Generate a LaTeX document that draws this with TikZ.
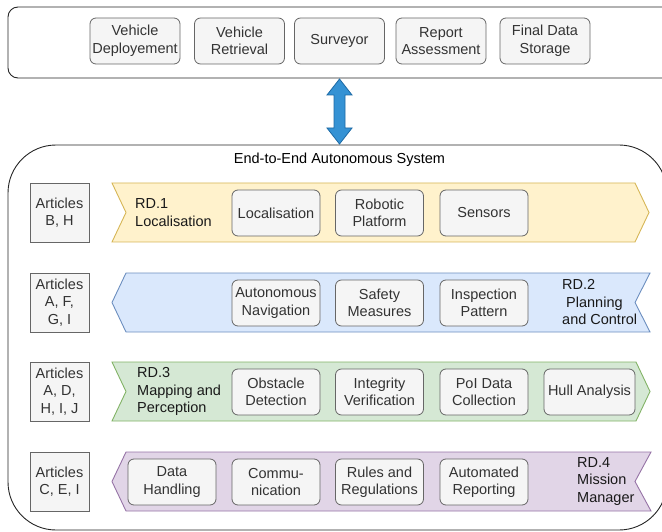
\documentclass[tikz,border=0pt]{standalone}
\usepackage{fontspec}
\setmainfont{Liberation Sans}
\definecolor{gfill}{HTML}{F5F5F5}
\definecolor{gline}{HTML}{666666}
\definecolor{gtext}{HTML}{333333}
\definecolor{yfill}{HTML}{FFF2CC}
\definecolor{yline}{HTML}{D6B656}
\definecolor{bfill}{HTML}{DAE8FC}
\definecolor{bline}{HTML}{6C8EBF}
\definecolor{grfill}{HTML}{D5E8D4}
\definecolor{grline}{HTML}{82B366}
\definecolor{pfill}{HTML}{E1D5E7}
\definecolor{pline}{HTML}{9673A6}
\definecolor{afill}{HTML}{3592D4}
\definecolor{aline}{HTML}{1D6AA5}
\begin{document}
\begin{tikzpicture}[x=1pt,y=-1pt,
  font=\fontsize{14.5}{17.5}\selectfont,
  subbox/.style={draw=gline, fill=gfill, text=gtext, rounded corners=6pt,
    minimum width=88pt, minimum height=46pt, align=center, inner sep=0pt, line width=0.8pt},
  artbox/.style={draw=gline, fill=gfill, text=gtext,
    minimum width=59pt, minimum height=59pt, align=center, inner sep=0pt, line width=0.8pt},
  outer/.style={draw=black!85, line width=0.9pt},
  band/.style={line width=0.9pt},
  rdlabel/.style={align=left, inner sep=0pt, text=black!90}]
\useasboundingbox (0,0) rectangle (662,532);
% top container
\draw[outer, rounded corners=10pt] (8,7) rectangle (672,78);
\node[subbox, minimum width=90pt] (vd) at (135,41) {Vehicle\\Deployement};
\node[subbox, minimum width=90pt] (vr) at (239.5,41) {Vehicle\\Retrieval};
\node[subbox, minimum width=90pt] (sv) at (339.5,41) {Surveyor};
\node[subbox, minimum width=90pt] (ra) at (441,41) {Report\\Assessment};
\node[subbox, minimum width=90pt] (fd) at (545,41) {Final Data\\Storage};
% big container
\draw[outer, rounded corners=48pt] (8,145) rectangle (667,530);
\node (title) at (339.5,160) {End-to-End Autonomous System};
% double arrow
\draw[fill=afill, draw=aline, line width=0.8pt]
  (339.5,79) -- (352,95) -- (345,95) -- (345,128) -- (352,128) -- (339.5,144)
  -- (327,128) -- (334,128) -- (334,95) -- (327,95) -- cycle;
% row 1
\draw[band, fill=yfill, draw=yline] (112,183) -- (635,183) -- (649,212.5) -- (635,242) -- (112,242) -- (126,212.5) -- cycle;
\node[artbox] (a1) at (59.5,212.5) {Articles\\B, H};
\node[rdlabel, anchor=west] (rd1) at (135,212.5) {RD.1\\Localisation};
\node[subbox] (loc) at (276,213) {Localisation};
\node[subbox] (rp) at (379.5,213) {Robotic\\Platform};
\node[subbox] (sen) at (484,213) {Sensors};
% row 2
\draw[band, fill=bfill, draw=bline] (126,273) -- (650,273) -- (635,302.5) -- (650,332) -- (126,332) -- (112,302.5) -- cycle;
\node[artbox] (a2) at (59.5,302.5) {Articles\\A, F,\\G, I};
\node[rdlabel, anchor=west] (rd2) at (562,302.5) {RD.2\\\ Planning\\and Control};
\node[subbox] (an) at (276,303) {Autonomous\\Navigation};
\node[subbox] (sm) at (379.5,303) {Safety\\Measures};
\node[subbox] (ip) at (484,303) {Inspection\\Pattern};
% row 3
\draw[band, fill=grfill, draw=grline] (112,362) -- (636,362) -- (650,391.5) -- (636,421) -- (112,421) -- (126,391.5) -- cycle;
\node[artbox] (a3) at (59.5,391.5) {Articles\\A, D,\\H, I, J};
\node[rdlabel, anchor=west] (rd3) at (137,391.5) {RD.3\\Mapping and\\Perception};
\node[subbox] (od) at (276,392) {Obstacle\\Detection};
\node[subbox] (iv) at (379.5,392) {Integrity\\Verification};
\node[subbox] (pd) at (484,392) {PoI Data\\Collection};
\node[subbox, minimum width=91pt] (ha) at (589.5,392) {Hull Analysis};
% row 4
\draw[band, fill=pfill, draw=pline] (126,452) -- (651,452) -- (635,481.5) -- (651,511) -- (126,511) -- (112,481.5) -- cycle;
\node[artbox] (a4) at (59.5,481.5) {Articles\\C, E, I};
\node[rdlabel, anchor=west] (rd4) at (577,481.5) {RD.4\\Mission\\Manager};
\node[subbox] (dh) at (172,482) {Data\\Handling};
\node[subbox] (cm) at (276,482) {Commu-\\nication};
\node[subbox] (rr) at (379.5,482) {Rules and\\Regulations};
\node[subbox] (ar) at (484,482) {Automated\\Reporting};
\end{tikzpicture}
\end{document}
